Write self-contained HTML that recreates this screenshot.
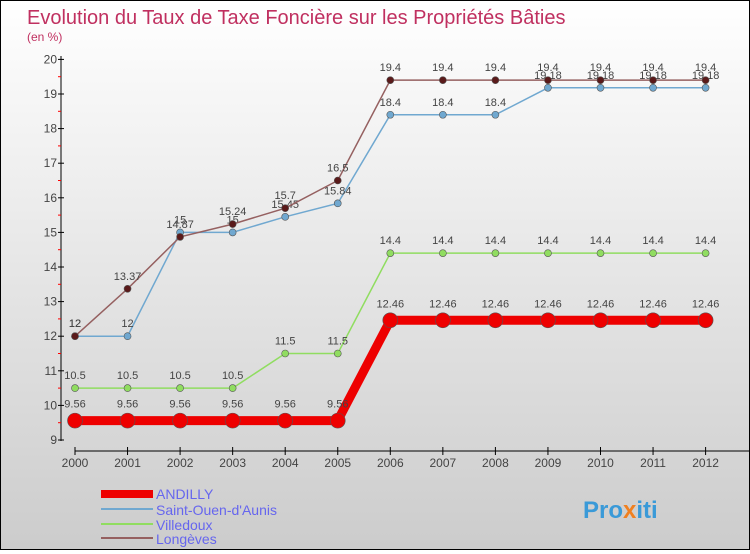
<!DOCTYPE html>
<html><head><meta charset="utf-8"><style>
body{margin:0;width:750px;height:550px;overflow:hidden;font-family:"Liberation Sans",sans-serif}
#wrap{position:relative;width:748px;height:548px;border:1px solid #000;background:linear-gradient(#fff,#ccc)}
</style></head><body>
<div id="wrap">
<svg id="chart" width="748" height="548">
<text x="26" y="23" font-size="20" fill="#c03060">Evolution du Taux de Taxe Foncière sur les Propriétés Bâties</text>
<text x="26" y="40" font-size="12" fill="#c03060">(en %)</text>
<g id="axes"></g><g id="series"></g>
<g>
<rect x="100" y="489" width="52" height="8" fill="#e00"/>
<text x="155" y="498" font-size="14" fill="#6666ee">ANDILLY</text>
<rect x="100" y="507" width="52" height="2" fill="#70a8d0"/>
<text x="155" y="514" font-size="14" fill="#6666ee">Saint-Ouen-d'Aunis</text>
<rect x="100" y="522" width="52" height="2" fill="#90dd60"/>
<text x="155" y="529" font-size="14" fill="#6666ee">Villedoux</text>
<rect x="100" y="536" width="52" height="2" fill="#956060"/>
<text x="155" y="543" font-size="14" fill="#6666ee">Longèves</text>
</g>
<text x="582" y="517" font-size="24" font-weight="bold" fill="#3a9ad8">Pro<tspan fill="#f08020">x</tspan>iti</text>
</svg></div>
<script>
const years=["2000","2001","2002","2003","2004","2005","2006","2007","2008","2009","2010","2011","2012"];
const yTicks=[9,10,11,12,13,14,15,16,17,18,19,20];
const andilly=[9.56,9.56,9.56,9.56,9.56,9.56,12.46,12.46,12.46,12.46,12.46,12.46,12.46];
const saintOuen=[12,12,15,15,15.45,15.84,18.4,18.4,18.4,19.18,19.18,19.18,19.18];
const villedoux=[10.5,10.5,10.5,10.5,11.5,11.5,14.4,14.4,14.4,14.4,14.4,14.4,14.4];
const longeves=[12,13.37,14.87,15.24,15.7,16.5,19.4,19.4,19.4,19.4,19.4,19.4,19.4];
const NS="http://www.w3.org/2000/svg";
const x=i=>74+i*52.55, y=v=>439-(v-9)*34.6;
function mk(t,a,p){const e=document.createElementNS(NS,t);for(const k in a)e.setAttribute(k,a[k]);p.appendChild(e);return e;}
const ax=document.getElementById('axes'),se=document.getElementById('series');
let e=mk('line',{x1:60,y1:55,x2:60,y2:440,stroke:'#000'},ax);

e=mk('line',{x1:74,y1:450,x2:748,y2:450,stroke:'#000'},ax);

yTicks.forEach(v=>{mk('line',{x1:57,x2:63,y1:y(v),y2:y(v),stroke:'#000'},ax);
 if(v<20)mk('line',{x1:57,x2:60,y1:y(v+0.5),y2:y(v+0.5),stroke:'#f00'},ax);
 const t=mk('text',{x:56,y:y(v)+4,'font-size':12,'text-anchor':'end',fill:'#444'},ax);t.textContent=v;
 });
years.forEach((yr,i)=>{mk('line',{x1:x(i),x2:x(i),y1:446,y2:454,stroke:'#000'},ax);
 const t=mk('text',{x:x(i),y:466,'font-size':12,'text-anchor':'middle',fill:'#444'},ax);t.textContent=yr;
 });
function draw(d,col,w,r,name,dotStroke){
 const g=mk('g',{},se);
 mk('polyline',{points:d.map((v,i)=>x(i)+','+y(v)).join(' '),fill:'none',stroke:col,'stroke-width':w},g);
 d.forEach((v,i)=>{const c=mk('circle',{cx:x(i),cy:y(v),r:r,fill:dotStroke?col:col,stroke:'#555','stroke-width':0.6},g);
  
  const t=mk('text',{x:x(i),y:y(v)-9-(r>5?4:0),'font-size':11,'text-anchor':'middle',fill:'#444'},g);t.textContent=v;
  });
}
draw(villedoux,'#90dd60',1.5,3.5,'villedoux');
draw(saintOuen,'#70a8d0',1.5,3.5,'saint-ouen');
draw(longeves,'#956060',1.5,3.5,'longeves');
[...se.querySelectorAll('g')].pop().querySelectorAll('circle').forEach(c=>c.setAttribute('fill','#5a1a1a'));
draw(andilly,'#e00',9,7.5,'andilly');
</script></body></html>
